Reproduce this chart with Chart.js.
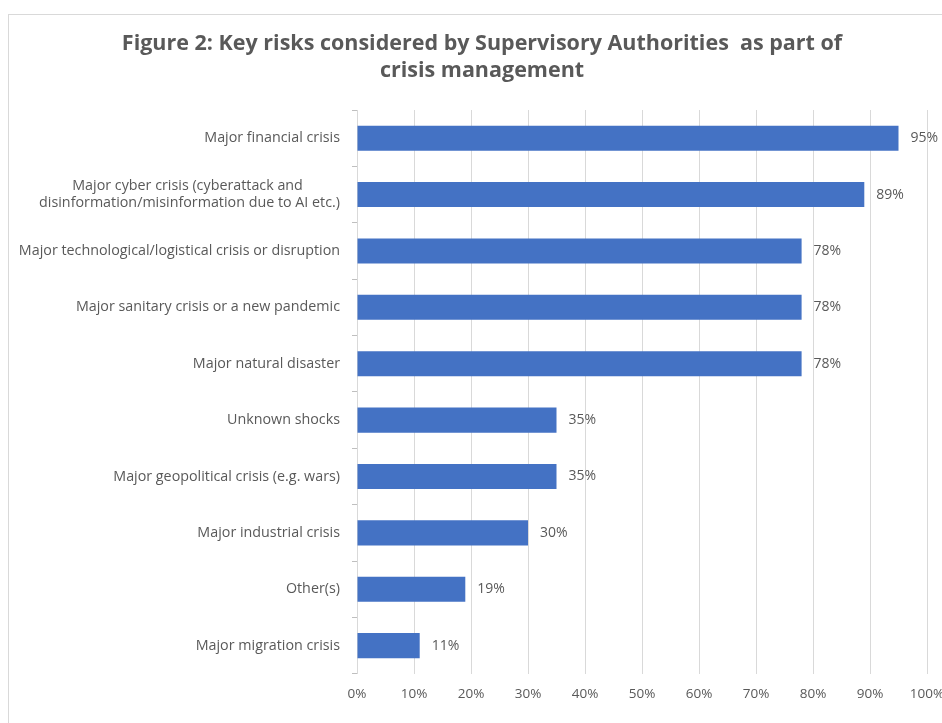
<!DOCTYPE html>
<html>
<head>
<meta charset="utf-8">
<script src="https://cdn.jsdelivr.net/npm/chart.js@4.4.1/dist/chart.umd.min.js"></script>
<style>
  body { margin: 0; background: #fff; }
  #wrap { position: relative; width: 942px; height: 723px; }
  #frame { position: absolute; left: 8px; top: 14px; right: 0; bottom: 0; border-top: 1px solid #d9d9d9; border-left: 1px solid #d9d9d9; }
  #title { position: absolute; left: 0; width: 964px; top: 28px; text-align: center; font: bold 21.5px "Open Sans", sans-serif; color: #595959; line-height: 27px; white-space: pre; }
  canvas { position: absolute; left: 0; top: 0; }
</style>
</head>
<body>
<div id="wrap">
  <div id="frame"></div>
  <canvas id="riskChart" width="942" height="723"></canvas>
  <div id="title">Figure 2: Key risks considered by Supervisory Authorities  as part of
crisis management</div>
</div>
<script>
const categories = [
    'Major financial crisis',
    ['Major cyber crisis (cyberattack and          ', 'disinformation/misinformation due to AI etc.)'],
    'Major technological/logistical crisis or disruption',
    'Major sanitary crisis or a new pandemic',
    'Major natural disaster',
    'Unknown shocks',
    'Major geopolitical crisis (e.g. wars)',
    'Major industrial crisis',
    'Other(s)',
    'Major migration crisis'
];
const shares = [95, 89, 78, 78, 78, 35, 35, 30, 19, 11];
const xTicks = [0, 10, 20, 30, 40, 50, 60, 70, 80, 90, 100];

const textGrey = '#595959';
const labelFont = { family: '"Open Sans", sans-serif', size: 14.3 };

// draws the "95%" style labels to the right of each bar
const barValueLabels = {
    id: 'barValueLabels',
    afterDatasetsDraw(chart) {
        const ctx = chart.ctx;
        const meta = chart.getDatasetMeta(0);
        ctx.save();
        ctx.font = '14px "Open Sans", sans-serif';
        ctx.fillStyle = textGrey;
        ctx.textAlign = 'left';
        ctx.textBaseline = 'middle';
        meta.data.forEach((bar, i) => {
            ctx.fillText(shares[i] + '%', bar.x + 12, bar.y);
        });
        ctx.restore();
    }
};

const ctx = document.getElementById('riskChart').getContext('2d');
const riskChart = new Chart(ctx, {
    type: 'bar',
    data: {
        labels: categories,
        datasets: [{
            data: shares,
            backgroundColor: '#4472C4',
            barPercentage: 0.445,
            categoryPercentage: 1
        }]
    },
    options: {
        indexAxis: 'y',
        responsive: false,
        animation: false,
        layout: { padding: { top: 110, right: 15, bottom: 9, left: 0 } },
        plugins: {
            legend: { display: false },
            title: { display: false },
            tooltip: { enabled: false }
        },
        scales: {
            x: {
                min: 0,
                max: 100,
                afterBuildTicks: axis => { axis.ticks = xTicks.map(v => ({ value: v })); },
                afterFit: axis => { axis.paddingLeft = 0; axis.paddingRight = 0; },
                grid: { color: '#d9d9d9', drawTicks: false },
                border: { display: false },
                ticks: {
                    color: textGrey,
                    font: { family: '"Open Sans", sans-serif', size: 13.5 },
                    padding: 12,
                    maxRotation: 0,
                    callback: v => v + '%'
                }
            },
            y: {
                afterFit: axis => { axis.width = 357; },
                grid: { drawOnChartArea: false, tickLength: 5, color: '#bfbfbf' },
                border: { display: true, color: '#d9d9d9' },
                ticks: { color: textGrey, font: labelFont, padding: 12 }
            }
        }
    },
    plugins: [barValueLabels]
});
</script>
</body>
</html>
